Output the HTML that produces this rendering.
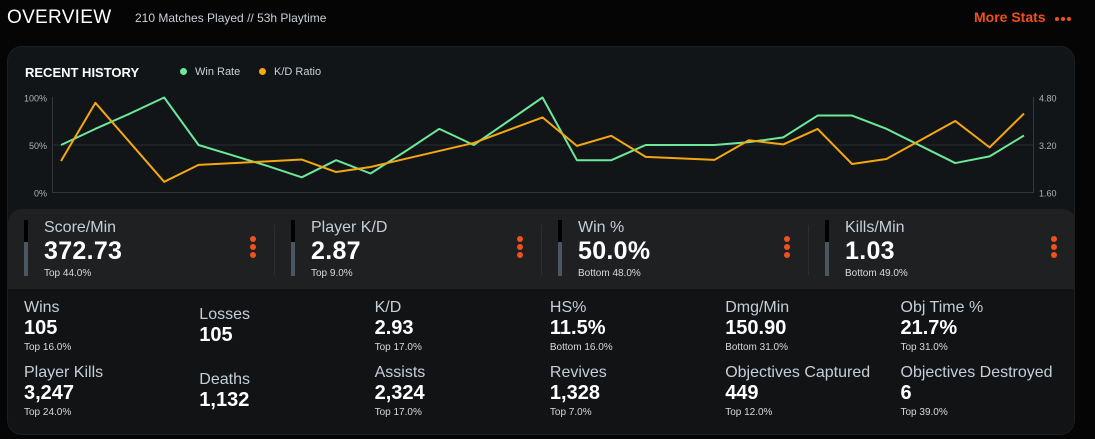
<!DOCTYPE html>
<html><head><meta charset="utf-8"><style>
*{margin:0;padding:0;box-sizing:border-box}
body{width:1095px;height:439px;background:#050505;font-family:"Liberation Sans",sans-serif;position:relative;overflow:hidden;color:#fff}
.abs{position:absolute}
.card{left:7px;top:46px;width:1068px;height:389px;background:#121517;border-radius:15px;border:1px solid #1c1f22;overflow:hidden}
.band{left:0;top:162px;width:1068px;height:80px;background:#1f2022;border-radius:14px 14px 0 0}
.low{left:0;top:242px;width:1068px;height:147px;background:#111315}
.ts .lbl{font-size:16px;color:#c5cfd9;white-space:nowrap}
.ts .val{font-size:25px;font-weight:bold;color:#fff;margin-top:0px;letter-spacing:0.3px}
.ts .sub{font-size:10px;color:#d6dbe0;margin-top:2px}
.bar{width:4px;height:56px;background:#4b5661}
.bar i{display:block;width:4px;height:22px;background:#000}
.keb{width:6px}
.keb b{display:block;width:6px;height:6px;border-radius:50%;background:#f0501e;margin-bottom:2px}
.sep{width:1px;height:50px;background:#2b2d30}
.st .lbl{font-size:16px;color:#c5cfd9;white-space:nowrap}
.st .val{font-size:20px;font-weight:bold;color:#fff}
.st .sub{font-size:10px;color:#d6dbe0;margin-top:2px}
.md{display:inline-block;width:4px;height:4px;border-radius:50%;background:#f0501e;margin-right:2px}
</style></head><body>
<div class="abs" style="left:7px;top:7px;font-size:19px;letter-spacing:0.3px;color:#fff">OVERVIEW</div>
<div class="abs" style="left:135px;top:11px;font-size:12px;color:#c9d0d8">210 Matches Played // 53h Playtime</div>
<div class="abs" style="left:974px;top:9px;font-size:14px;color:#f0501e;font-weight:bold">More Stats</div>
<div class="abs" style="left:1055px;top:15px;line-height:4px"><span class="md"></span><span class="md"></span><span class="md"></span></div>

<div class="abs card">
  <div class="abs" style="left:17px;top:18px;font-size:13px;font-weight:bold;color:#fff">RECENT HISTORY</div>
  <div class="abs" style="left:172px;top:19px;font-size:11px;color:#c9d0d8"><span style="display:inline-block;width:7px;height:7px;border-radius:50%;background:#6de89a;margin-right:8px"></span>Win Rate</div>
  <div class="abs" style="left:251px;top:19px;font-size:11px;color:#c9d0d8"><span style="display:inline-block;width:7px;height:7px;border-radius:50%;background:#f5a70f;margin-right:8px"></span>K/D Ratio</div>

  <div class="abs band"></div>
  <div class="abs low"></div>
</div>

<svg class="abs" id="chart" style="left:0;top:0" width="1095" height="205"></svg>

<div id="tops"></div>
<div id="grid"></div>

<script>
const winRate=[50,67,83,100,50,39,28,16,34,20,43,67,50,75,100,34,34,50,50,50,53,58,81,81,67,49,31,38,60];
const kdRatio=[2.66,4.62,3.29,1.96,2.53,2.59,2.65,2.71,2.29,2.46,2.73,3.0,3.27,3.7,4.13,3.17,3.51,2.80,2.75,2.70,3.36,3.22,3.74,2.56,2.73,3.37,4.01,3.12,4.26];
const leftTicks=["0%","50%","100%"];
const leftTickVals=[0,50,100];
const rightTicks=["1.60","3.20","4.80"];
const rightTickVals=[1.6,3.2,4.8];
const NS="http://www.w3.org/2000/svg";
const svg=document.getElementById('chart');
const X0=61,X1=1024,YT=97.5,YB=192.5;
const xs=i=>X0+(X1-X0)*i/(winRate.length-1);
const yL=v=>YB-(YB-YT)*v/100;
const yR=v=>YB-(YB-YT)*(v-1.6)/3.2;
function mk(t,a){const e=document.createElementNS(NS,t);for(const k in a)e.setAttribute(k,a[k]);svg.appendChild(e);return e;}
leftTickVals.forEach((v,i)=>{
  if(v<100){
    const g=mk('line',{x1:52,x2:1034,y1:yL(v),y2:yL(v),stroke:v===0?'#33363b':'#2a2d31','stroke-width':1});
    
    
  }
  const t=mk('text',{x:47,y:yL(v)+4,'text-anchor':'end','font-size':9,fill:'#aab2ba','font-family':'Liberation Sans'});
  t.textContent=leftTicks[i];
  
  
});
rightTickVals.forEach((v,i)=>{
  const t=mk('text',{x:1039,y:yR(v)+4,'font-size':9,fill:'#aab2ba','font-family':'Liberation Sans'});
  t.textContent=rightTicks[i];
  
  
});
const la=mk('line',{x1:52.5,x2:52.5,y1:97,y2:193,stroke:'#33363b'});


const ra=mk('line',{x1:1033.5,x2:1033.5,y1:97,y2:193,stroke:'#33363b'});


const p1=mk('polyline',{points:winRate.map((v,i)=>xs(i)+','+yL(v)).join(' '),fill:'none',stroke:'#6de89a','stroke-width':2,'stroke-linejoin':'round'});


const p2=mk('polyline',{points:kdRatio.map((v,i)=>xs(i)+','+yR(v)).join(' '),fill:'none',stroke:'#f5a70f','stroke-width':2,'stroke-linejoin':'round'});



const tops=[["Score/Min","372.73","Top 44.0%"],["Player K/D","2.87","Top 9.0%"],["Win %","50.0%","Bottom 48.0%"],["Kills/Min","1.03","Bottom 49.0%"]];
let h='';
tops.forEach((t,i)=>{
  const x=24+i*267;
  const n=t[0].toLowerCase().replace(/[^a-z0-9]+/g,'-');
  h+=`<div class="abs bar" style="left:${x}px;top:220px"><i></i></div>`;
  h+=`<div class="abs ts" style="left:${x+20}px;top:219px"><div class="lbl">${t[0]}</div><div class="val">${t[1]}</div><div class="sub">${t[2]}</div></div>`;
  h+=`<div class="abs keb" style="left:${x+226}px;top:236px"><b></b><b></b><b></b></div>`;
  if(i<3)h+=`<div class="abs sep" style="left:${x+250}px;top:225px"></div>`;
});
document.getElementById('tops').innerHTML=h;

const stats=[["Wins","105","Top 16.0%"],["Losses","105",""],["K/D","2.93","Top 17.0%"],["HS%","11.5%","Bottom 16.0%"],["Dmg/Min","150.90","Bottom 31.0%"],["Obj Time %","21.7%","Top 31.0%"],
["Player Kills","3,247","Top 24.0%"],["Deaths","1,132",""],["Assists","2,324","Top 17.0%"],["Revives","1,328","Top 7.0%"],["Objectives Captured","449","Top 12.0%"],["Objectives Destroyed","6","Top 39.0%"]];
let g='';
stats.forEach((s,i)=>{
  const c=i%6,r=Math.floor(i/6);
  const x=24+c*175.3;
  const y=(r?364:299)+(s[2]?0:7);
  const n=s[0].toLowerCase().replace(/[^a-z0-9]+/g,'-');
  g+=`<div class="abs st" style="left:${x}px;top:${y}px"><div class="lbl">${s[0]}</div><div class="val">${s[1]}</div>${s[2]?`<div class="sub">${s[2]}</div>`:''}</div>`;
});
document.getElementById('grid').innerHTML=g;
</script>
</body></html>
